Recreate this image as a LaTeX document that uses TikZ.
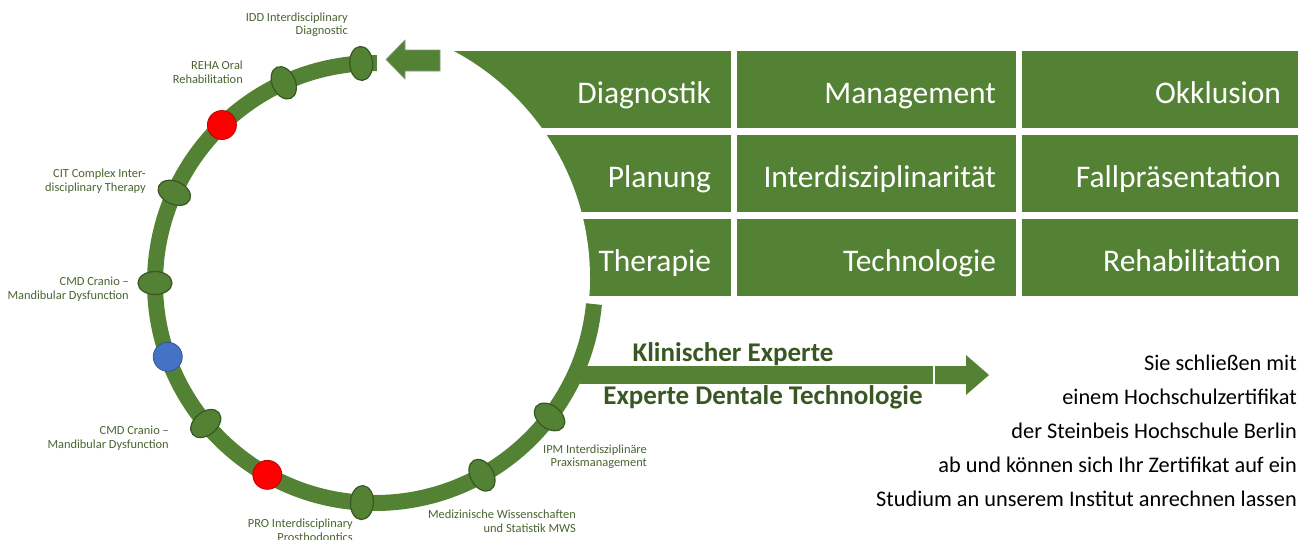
\documentclass[tikz,border=0pt]{standalone}
\usepackage{fontspec}
\setmainfont{Carlito}
\usetikzlibrary{shapes.geometric}
\definecolor{ringgreen}{RGB}{84,130,53}
\definecolor{edgegreen}{RGB}{56,87,35}
\definecolor{labelgreen}{RGB}{74,100,48}
\definecolor{dotblue}{RGB}{68,114,196}

\begin{document}
\begin{tikzpicture}[x=1pt, y=-1pt,
      topic/.style = {fill=ringgreen, text=white, inner xsep=20pt, inner ysep=0pt,
        minimum height=77pt, text width=239pt, align=right,
        text height=27pt, text depth=0pt, font=\fontsize{31.5}{36}\selectfont},
      station/.style = {ellipse, fill=ringgreen, draw=edgegreen, line width=1.2pt,
        minimum width=34pt, minimum height=23pt, inner sep=0pt},
      stopdot/.style = {circle, draw=#1!75!black, fill=#1, line width=0.8pt,
        minimum size=29pt, inner sep=0pt},
      stationlabel/.style = {anchor=east, align=right, text=labelgreen, inner sep=0pt,
        font=\fontsize{12.4}{13.5}\selectfont},
      badge/.style = {text=edgegreen, inner sep=0pt,
        font=\bfseries\fontsize{27}{30}\selectfont}]
  \useasboundingbox (0,0) rectangle (1298,539);

  % topics
  \node[topic] (diag) at (591.5,89.5) {Diagnostik};
  \node[topic] (mgmt) at (876.5,89.5) {Management};
  \node[topic] (okkl) at (1161.5,89.5) {Okklusion};
  \node[topic] (plan) at (591.5,173.5) {Planung};
  \node[topic] (inter) at (876.5,173.5) {Interdisziplinarität};
  \node[topic] (fall) at (1161.5,173.5) {Fallpräsentation};
  \node[topic] (ther) at (591.5,257.5) {Therapie};
  \node[topic] (tech) at (876.5,257.5) {Technologie};
  \node[topic] (reha) at (1161.5,257.5) {Rehabilitation};
  \fill[white] (333,278) circle [radius=257];

  % arrows
  \fill[ringgreen, draw=edgegreen!60, line width=0.6pt] (440,50) -- (405,50) -- (405,40)
    -- (386,59.5) -- (405,79) -- (405,71) -- (440,71) -- cycle;
  \fill[ringgreen] (580,366) rectangle (933,384);
  \fill[ringgreen] (935,366) -- (966,366) -- (966,355) -- (989,375)
    -- (966,395) -- (966,384) -- (935,384) -- cycle;

  % ring
  \coordinate (c) at (375,283);
  \draw[ringgreen, line width=16pt] (c) ++(270.5:220) arc[start angle=270.5, end angle=5.5, radius=220];
  \foreach \a/\n in {266.4/idd, 245.5/rehab, 204.2/cit, 180/cmda, 140.3/cmdb,
      93.4/pro, 60.9/mws, 37.5/ipm}
    \path (c) ++(\a:220) node[station, rotate=-\a] (\n) {};
  \path (c) ++(225.9:220) node[stopdot=red] (redA) {};
  \path (c) ++(119.3:220) node[stopdot=red] (redB) {};
  \path (c) ++(160.4:220) node[stopdot=dotblue] (blue) {};

  % station labels
  \node[stationlabel] (iddl) at (348,25) {IDD Interdisciplinary\\Diagnostic};
  \node[stationlabel] (rehal) at (243,72) {REHA Oral\\Rehabilitation};
  \node[stationlabel] (citl) at (146,181) {CIT Complex Inter-\\disciplinary Therapy};
  \node[stationlabel] (cmdal) at (129,289) {CMD Cranio –\\Mandibular Dysfunction};
  \node[stationlabel] (cmdbl) at (169,438) {CMD Cranio –\\Mandibular Dysfunction};
  \node[stationlabel] (prol) at (353,530) {PRO Interdisciplinary\\Prosthodontics};
  \node[stationlabel] (mwsl) at (576,521) {Medizinische Wissenschaften\\und Statistik MWS};
  \node[stationlabel] (ipml) at (647,457) {IPM Interdisziplinäre\\Praxismanagement};

  \node[badge] (klin) at (733,354) {Klinischer Experte};
  \node[badge] (dent) at (763,397) {Experte Dentale Technologie};
  \node[anchor=east, align=right, inner sep=0pt, font=\fontsize{22.3}{34}\selectfont] (note)
    at (1297,431) {Sie schließen mit\\einem Hochschulzertifikat\\der Steinbeis Hochschule Berlin\\ab und können sich Ihr Zertifikat auf ein\\Studium an unserem Institut anrechnen lassen};
\end{tikzpicture}
\end{document}
